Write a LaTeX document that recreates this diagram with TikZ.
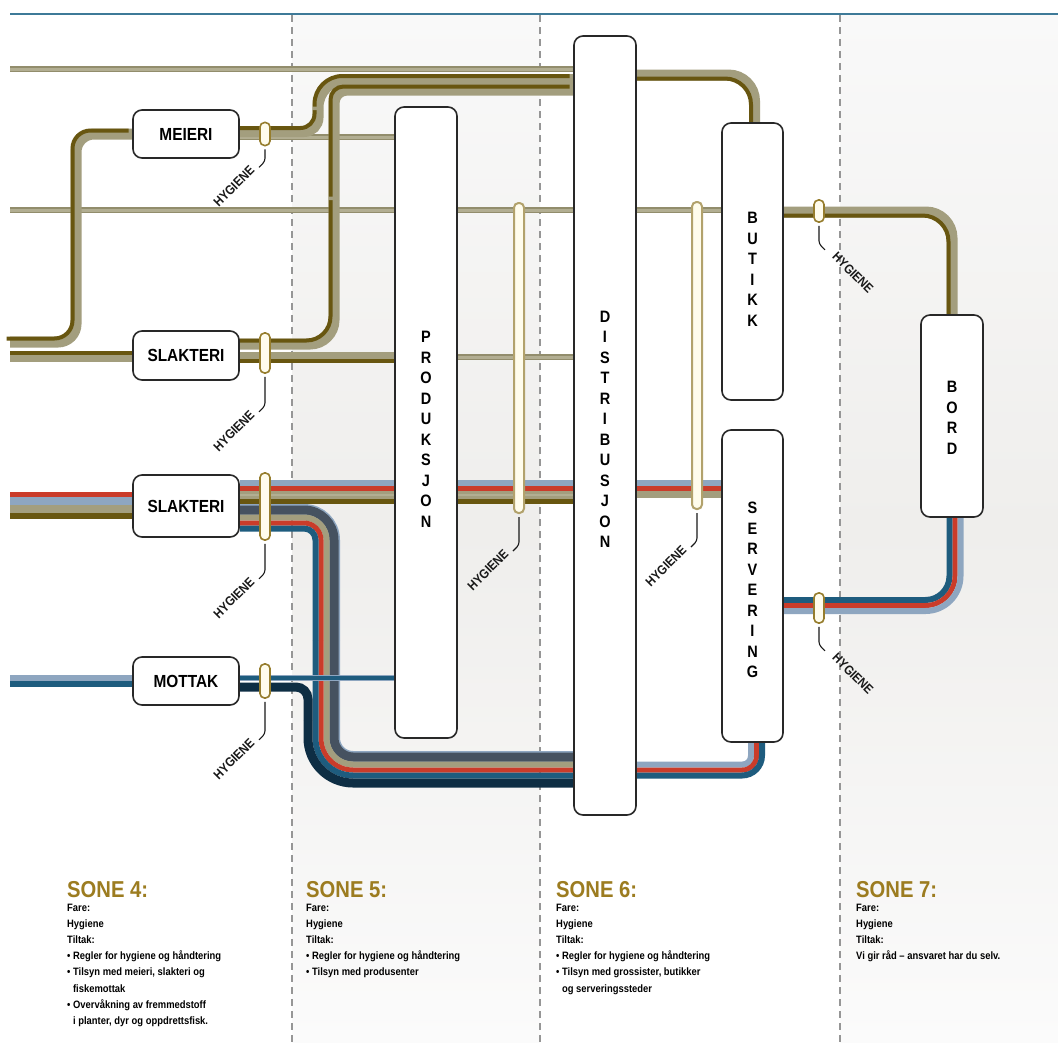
\documentclass[tikz,border=0pt]{standalone}
\usepackage{fontspec}
\setmainfont{Liberation Sans}
\newfontfamily\condf[FakeStretch=0.88]{Liberation Sans}
\usetikzlibrary{calc}

\pgfdeclarelayer{bg}
\pgfdeclarelayer{pipes}
\pgfsetlayers{bg,pipes,main}

\definecolor{khaki}{RGB}{163,158,126}
\definecolor{khakiD}{RGB}{146,141,108}
\definecolor{khakiL}{RGB}{178,174,146}
\definecolor{pipeolive}{RGB}{104,86,16}
\definecolor{pipered}{RGB}{202,60,42}
\definecolor{pipesteel}{RGB}{142,166,192}
\definecolor{pipeteal}{RGB}{30,92,126}
\definecolor{pipeslate}{RGB}{70,82,96}
\definecolor{pipenavy}{RGB}{14,46,68}
\definecolor{boxline}{RGB}{40,40,40}
\definecolor{ringline}{RGB}{150,125,45}
\definecolor{ringfill}{RGB}{255,252,236}
\definecolor{longring}{RGB}{178,162,108}
\definecolor{gold}{RGB}{156,124,32}
\definecolor{sepgray}{RGB}{150,150,150}
\definecolor{topblue}{RGB}{62,122,152}
\definecolor{bgA}{RGB}{249,249,249}
\definecolor{bgB}{RGB}{239,238,236}
\definecolor{bgC}{RGB}{251,251,251}

% a thin khaki line: darker rim, lighter core
\newcommand\thinpipe[1]{\draw[thinA] #1; \draw[thinB] #1;}
% an olive pipe: khaki band with a dark stripe along one edge
\newcommand\opipe[2][-3.5,-3.5]{\draw[okh] #2; \draw[odk, transform canvas={shift={(#1)}}] #2;}

\begin{document}
\begin{tikzpicture}[x=1pt,y=-1pt,
  box/.style={draw=boxline, line width=1.6pt, rounded corners=9pt, fill=white,
    inner sep=0pt, align=center, font=\condf\bfseries\fontsize{17.5}{21.4}\selectfont},
  vtext/.style={inner sep=0pt, align=center, font=\condf\bfseries\fontsize{16.5}{20.5}\selectfont},
  ring/.style={draw=ringline, line width=1.6pt, fill=ringfill, rounded corners=4.5pt,
    minimum width=10pt, inner sep=0pt},
  longring/.style={ring, draw=longring, line width=2pt},
  leader/.style={draw=black!90, line width=1.1pt, rounded corners=3pt},
  hyg/.style={font=\condf\bfseries\fontsize{13}{14}\selectfont, inner sep=0pt, text=black!90},
  okh/.style={draw=khaki, line width=11pt},
  odk/.style={draw=pipeolive, line width=4pt},
  thinA/.style={draw=khakiD, line width=5.5pt},
  thinB/.style={draw=khakiL, line width=3pt},
  zonehead/.style={anchor=base west, inner sep=0pt, text=gold,
    font=\condf\bfseries\fontsize{23}{26}\selectfont},
  zonebody/.style={anchor=north west, inner sep=0pt, align=left,
    font=\condf\bfseries\fontsize{10.7}{16.1}\selectfont},
  zonebg/.style={top color=bgA, bottom color=bgC, middle color=bgB, draw=none},
  zonesep/.style={draw=sepgray, line width=1.2pt, dash pattern=on 7pt off 5pt},
]
\useasboundingbox (0,0) rectangle (1058,1042);

% ---------- background: zones, separators, top rule ----------
\begin{pgfonlayer}{bg}
  \fill[white] (0,0) rectangle (1058,1042);
  \fill[zonebg] (292,15) rectangle (540,1042);
  \fill[zonebg] (840,15) rectangle (1058,1042);
  \draw[zonesep] (292,15) -- (292,1042);
  \draw[zonesep] (540,15) -- (540,1042);
  \draw[zonesep] (840,15) -- (840,1042);
  \draw[topblue, line width=2.5pt] (10,14) -- (1058,14);
\end{pgfonlayer}

% ---------- stations ----------
\node[box, minimum width=106pt, minimum height=48pt] (meieri)    at (186,134)   {MEIERI};
\node[box, minimum width=106pt, minimum height=49pt] (slakteri1) at (186,355.5) {SLAKTERI};
\node[box, minimum width=106pt, minimum height=62pt] (slakteri2) at (186,506)   {SLAKTERI};
\node[box, minimum width=106pt, minimum height=48pt] (mottak)    at (186,681)   {MOTTAK};
\node[box, minimum width=62pt, minimum height=631pt] (prod)      at (426,422.5) {};
\node[box, minimum width=62pt, minimum height=779pt] (dist)      at (605,425.5) {};
\node[box, minimum width=61pt, minimum height=277pt] (butikk)    at (752.5,261.5) {};
\node[box, minimum width=61pt, minimum height=312pt] (servering) at (752.5,586) {};
\node[box, minimum width=62pt, minimum height=202pt] (bord)      at (952,416) {};

% stacked letters inside the tall stations
\node[vtext] (prod-t)      at ([yshift=-7pt]prod.center)      {P\\R\\O\\D\\U\\K\\S\\J\\O\\N};
\node[vtext] (dist-t)      at ([yshift=-4pt]dist.center)      {D\\I\\S\\T\\R\\I\\B\\U\\S\\J\\O\\N};
\node[vtext] (butikk-t)    at ([yshift=-8pt]butikk.center)    {B\\U\\T\\I\\K\\K};
\node[vtext] (servering-t) at ([yshift=-4pt]servering.center) {S\\E\\R\\V\\E\\R\\I\\N\\G};
\node[vtext] (bord-t)      at ([yshift=-2pt]bord.center)      {B\\O\\R\\D};

% free ends at the left margin
\coordinate (c-top)  at (10,69);
\coordinate (c-mei)  at (10,342);
\coordinate (c-sl1)  at (10,356);
\coordinate (c-mid)  at (10,210);
\coordinate (c-sl2)  at (10,494.5);
\coordinate (c-mot)  at (10,678);

% ---------- pipes ----------
\begin{pgfonlayer}{pipes}
  % thin khaki lines
  \thinpipe{(c-top) -- (dist.west |- 0,69)}
  \thinpipe{(meieri.east |- 0,137) -- (prod.west |- 0,137)}
  \thinpipe{(c-mid) -- (prod.west |- 0,210)}
  \thinpipe{(prod.east |- 0,210) -- (dist.west |- 0,210)}
  \thinpipe{(dist.east |- 0,210) -- (butikk.west |- 0,210)}
  \thinpipe{(prod.east |- 0,357) -- (dist.west |- 0,357)}

  % olive pipes, left side
  \opipe{[rounded corners=18pt] (c-mei) -- (76,342) -- (76,134) -- (meieri.west)}
  \opipe[0,-3.5]{(c-sl1) -- (slakteri1.west |- 0,356)}
  % meieri up to distribusjon
  \opipe{[rounded corners=14pt] (meieri.east |- 0,131.5) -- (318,131.5) -- (318,110)}
  \opipe{[rounded corners=28pt] (318,110) -- (318,79.5) -- (dist.west |- 0,79.5)}
  % slakteri up to distribusjon
  \opipe{[rounded corners=24pt] (slakteri1.east |- 0,344) -- (334,344) -- (334,200)}
  \opipe{[rounded corners=13pt] (334,200) -- (334,90) -- (dist.west |- 0,90)}
  % slakteri straight to produksjon
  \opipe[0,3.5]{(slakteri1.east |- 0,357.5) -- (prod.west |- 0,357.5)}
  % distribusjon to butikk, butikk to bord
  \opipe[-3.5,3.5]{[rounded corners=26pt] (dist.east |- 0,75) -- (754.5,75) -- (butikk.north -| 754.5,0)}
  \opipe[-3.5,3.5]{[rounded corners=26pt] (butikk.east |- 0,212) -- (952,212) -- (bord.north)}

  % slakteri (second) feed
  \draw[pipered,   line width=5pt] (c-sl2) -- (slakteri2.west |- 0,494.5);
  \draw[pipesteel, line width=8pt] (c-sl2 |- 0,501) -- (slakteri2.west |- 0,501);
  \draw[khaki,     line width=8pt] (c-sl2 |- 0,509) -- (slakteri2.west |- 0,509);
  \draw[pipeolive, line width=6pt] (c-sl2 |- 0,516) -- (slakteri2.west |- 0,516);

  % straight group through produksjon and distribusjon
  \foreach \a/\b in {slakteri2.east/prod.west, prod.east/dist.west}{
    \draw[pipesteel, line width=6pt] (\a |- 0,483)   -- (\b |- 0,483);
    \draw[pipered,   line width=5pt] (\a |- 0,488.5) -- (\b |- 0,488.5);
    \draw[khaki,     line width=8pt] (\a |- 0,495)   -- (\b |- 0,495);
    \draw[khakiL,    line width=1.2pt] (\a |- 0,495) -- (\b |- 0,495);
    \draw[pipeolive, line width=5pt] (\a |- 0,501.5) -- (\b |- 0,501.5);
  }
  \draw[pipesteel, line width=6pt] (dist.east |- 0,483)   -- (servering.west |- 0,483);
  \draw[pipered,   line width=5pt] (dist.east |- 0,488.5) -- (servering.west |- 0,488.5);
  \draw[khaki,     line width=7pt] (dist.east |- 0,494.5) -- (servering.west |- 0,494.5);

  % turning bundle, upper halves
  \draw[pipesteel, line width=12pt, rounded corners=30pt] (slakteri2.east |- 0,510) -- (334,510) -- (334,640);
  \draw[pipeslate, line width=9pt, rounded corners=30pt] (slakteri2.east |- 0,510) -- (334,510) -- (334,640);
  \draw[khaki, line width=6pt, rounded corners=22.5pt] (slakteri2.east |- 0,517.5) -- (326.5,517.5) -- (326.5,640);
  \draw[pipered, line width=5pt, rounded corners=17pt] (slakteri2.east |- 0,523) -- (321,523) -- (321,640);
  \draw[pipeteal, line width=6pt, rounded corners=11.5pt] (slakteri2.east |- 0,528.5) -- (315.5,528.5) -- (315.5,640);
  % turning bundle, lower halves
  \draw[pipesteel, line width=12pt, rounded corners=19pt] (334,640) -- (334,757) -- (dist.west |- 0,757);
  \draw[pipeslate, line width=9pt, rounded corners=19pt] (334,640) -- (334,757) -- (dist.west |- 0,757);
  \draw[khaki, line width=6pt, rounded corners=26.5pt] (326.5,640) -- (326.5,764.5) -- (dist.west |- 0,764.5);
  \draw[pipered, line width=5pt, rounded corners=32pt] (321,640) -- (321,770) -- (dist.west |- 0,770);
  \draw[pipeteal, line width=6pt, rounded corners=37.5pt] (315.5,640) -- (315.5,775.5) -- (dist.west |- 0,775.5);

  % mottak feed and lower pipe
  \draw[pipesteel, line width=6pt] (c-mot) -- (mottak.west |- 0,678);
  \draw[pipeteal,  line width=6pt] (c-mot |- 0,684) -- (mottak.west |- 0,684);
  \draw[pipenavy, line width=9pt, rounded corners=12pt] (mottak.east |- 0,687) -- (308,687) -- (308,720);
  \draw[pipenavy, line width=9pt, rounded corners=45pt] (308,720) -- (308,783) -- (dist.west |- 0,783);
  % mottak straight to produksjon
  \draw[pipesteel, line width=6.5pt] (mottak.east |- 0,678) -- (prod.west |- 0,678);
  \draw[pipeteal,  line width=4pt]   (mottak.east |- 0,678) -- (prod.west |- 0,678);

  % distribusjon up to servering
  \draw[pipesteel, line width=6pt, rounded corners=8.5pt] (dist.east |- 0,764.5) -- (751,764.5) -- (servering.south -| 751,0);
  \draw[pipered, line width=5pt, rounded corners=14pt] (dist.east |- 0,770) -- (756.5,770) -- (servering.south -| 756.5,0);
  \draw[pipeteal, line width=6pt, rounded corners=20pt] (dist.east |- 0,775.5) -- (762,775.5) -- (servering.south -| 762,0);

  % servering to bord
  \draw[pipeteal, line width=6pt, rounded corners=24pt] (servering.east |- 0,600) -- (949.5,600) -- (bord.south -| 949.5,0);
  \draw[pipered, line width=5pt, rounded corners=29.5pt] (servering.east |- 0,605.5) -- (955,605.5) -- (bord.south -| 955,0);
  \draw[pipesteel, line width=6pt, rounded corners=35pt] (servering.east |- 0,611) -- (960.5,611) -- (bord.south -| 960.5,0);
\end{pgfonlayer}

% ---------- hygiene checkpoints ----------
\node[ring, minimum height=23pt] (h1) at (265,134) {};
\node[ring, minimum height=40pt] (h2) at (265,353) {};
\node[ring, minimum height=67pt] (h3) at (265,506.5) {};
\node[ring, minimum height=34pt] (h4) at (265,681) {};
\node[longring, minimum height=310pt] (h5) at (519,358) {};
\node[longring, minimum height=307pt] (h6) at (697,355.5) {};
\node[ring, minimum height=22pt] (h7) at (819,211) {};
\node[ring, minimum height=30pt] (h8) at (819,608) {};

\draw[leader] (h1.south) ++(0,3) -- ++(0,12) -- ++(-6,6) coordinate (e1);
\draw[leader] (h2.south) ++(0,3) -- ++(0,29) -- ++(-6,6) coordinate (e2);
\draw[leader] (h3.south) ++(0,3) -- ++(0,29) -- ++(-6,6) coordinate (e3);
\draw[leader] (h4.south) ++(0,3) -- ++(0,32) -- ++(-6,6) coordinate (e4);
\draw[leader] (h5.south) ++(0,3) -- ++(0,28) -- ++(-6,6) coordinate (e5);
\draw[leader] (h6.south) ++(0,3) -- ++(0,28) -- ++(-6,6) coordinate (e6);
\draw[leader] (h7.south) ++(0,3) -- ++(0,18) -- ++(6,6) coordinate (e7);
\draw[leader] (h8.south) ++(0,3) -- ++(0,18) -- ++(6,6) coordinate (e8);

\foreach \e in {e1,e2,e3,e4,e5,e6}
  \node[hyg, rotate=45] at ($(\e)+(-25,19)$) {HYGIENE};
\foreach \e in {e7,e8}
  \node[hyg, rotate=-45] at ($(\e)+(28,23)$) {HYGIENE};

% ---------- zone notes ----------
\node[zonehead] (z4h) at (67,897) {SONE 4:};
\node[zonebody] (z4t) at (67,904) {Fare:\\Hygiene\\Tiltak:\\
  • Regler for hygiene og håndtering\\
  • Tilsyn med meieri, slakteri og\\
  \hphantom{• }fiskemottak\\
  • Overvåkning av fremmedstoff\\
  \hphantom{• }i planter, dyr og oppdrettsfisk.};

\node[zonehead] (z5h) at (306,897) {SONE 5:};
\node[zonebody] (z5t) at (306,904) {Fare:\\Hygiene\\Tiltak:\\
  • Regler for hygiene og håndtering\\
  • Tilsyn med produsenter};

\node[zonehead] (z6h) at (556,897) {SONE 6:};
\node[zonebody] (z6t) at (556,904) {Fare:\\Hygiene\\Tiltak:\\
  • Regler for hygiene og håndtering\\
  • Tilsyn med grossister, butikker\\
  \hphantom{• }og serveringssteder};

\node[zonehead] (z7h) at (856,897) {SONE 7:};
\node[zonebody] (z7t) at (856,904) {Fare:\\Hygiene\\Tiltak:\\
  Vi gir råd – ansvaret har du selv.};
\end{tikzpicture}
\end{document}
